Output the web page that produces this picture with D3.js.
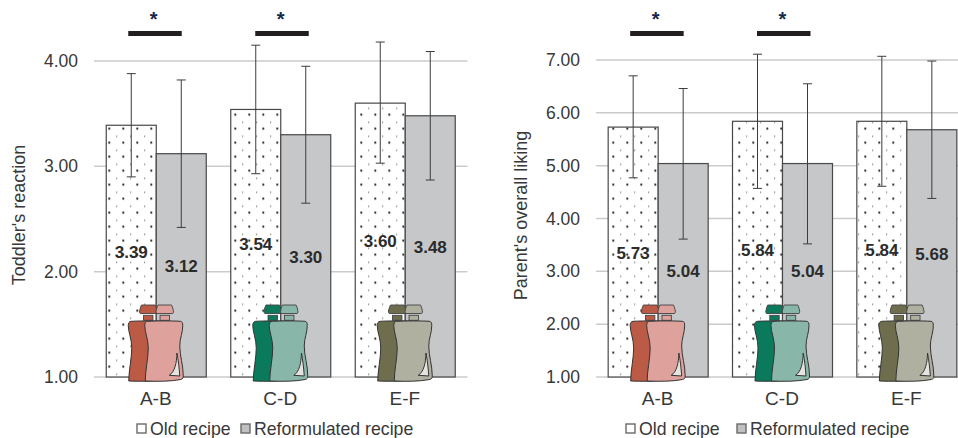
<!DOCTYPE html>
<html lang="en">
<head>
  <meta charset="UTF-8">
  <title>Toddler and parent ratings</title>
  <style>
    html, body { margin: 0; padding: 0; background: #fff; overflow: hidden; }
    text { font-family: "Liberation Sans", Arial, sans-serif; fill: #383838; }
  </style>
</head>
<body>
  <script src="https://d3js.org/d3.v7.min.js"></script>
  <script>
    const categories = ['A-B', 'C-D', 'E-F']
    const recipes = ['Old recipe', 'Reformulated recipe']

    const toddlerOld = [3.39, 3.54, 3.60]
    const toddlerNew = [3.12, 3.30, 3.48]
    const toddlerOldLow = [2.90, 2.93, 3.03]
    const toddlerOldHigh = [3.88, 4.15, 4.18]
    const toddlerNewLow = [2.42, 2.65, 2.87]
    const toddlerNewHigh = [3.82, 3.95, 4.09]
    const toddlerTicks = [1, 2, 3, 4]

    const parentOld = [5.73, 5.84, 5.84]
    const parentNew = [5.04, 5.04, 5.68]
    const parentOldLow = [4.77, 4.57, 4.61]
    const parentOldHigh = [6.70, 7.11, 7.07]
    const parentNewLow = [3.61, 3.52, 4.38]
    const parentNewHigh = [6.46, 6.55, 6.98]
    const parentTicks = [1, 2, 3, 4, 5, 6, 7]

    const significant = ['A-B', 'C-D']

    const oldBottle = ['#bb5a45', '#0b7a5c', '#6e6e4e']
    const newBottle = ['#dfa19c', '#88b7aa', '#b0b0a0']

    const svg = d3.select('body').append('svg')
      .attr('width', 958)
      .attr('height', 438)

    // dotted fill of the old recipe bars
    const pattern = svg.append('defs').append('pattern')
      .attr('id', 'dots')
      .attr('patternUnits', 'userSpaceOnUse')
      .attr('x', 10.1)
      .attr('y', 1.5)
      .attr('width', 14)
      .attr('height', 14)
    pattern.append('rect').attr('width', 14).attr('height', 14).attr('fill', '#fff')
    pattern.append('circle').attr('cx', 1.2).attr('cy', 1.2).attr('r', 1.1).attr('fill', '#222')
    pattern.append('circle').attr('cx', 8.6).attr('cy', 8.8).attr('r', 0.6).attr('fill', '#333')

    const bodyPath = 'M-17,16.3 C-8,15.8 8,15.8 15.5,16.3 C17.5,16.4 18,18 18,20.5 C18,28 15,33 15,41 C15,51 18.5,60 18.5,71 C18.5,73 18,74 16,74.5 C6,76.5 -8,76.5 -19.5,76 C-19.5,66 -16.5,53 -16.5,43 C-16.5,34 -20,27 -20,20.5 C-20,18 -19,16.4 -17,16.3 Z'
    const capPath = 'M-6.8,0 L6.8,0 L8,3 L8.8,7 L8,8.5 L-8,8.5 L-8.8,7 L-8,3 Z'
    const glarePath = 'M12.2,48 C12,58 10,67 4.5,70.3 L15,71 C14.5,63 13.5,55 12.2,48 Z'

    function drawBottle(g, x, top, color, withGlare) {
      const b = g.append('g').attr('transform', `translate(${x},${top})`)
      b.append('rect').attr('x', -4.7).attr('y', 10.3).attr('width', 9.4).attr('height', 5)
        .attr('fill', color).attr('stroke', '#444').attr('stroke-width', 0.9)
      b.append('path').attr('d', capPath)
        .attr('fill', color).attr('stroke', '#444').attr('stroke-width', 0.9)
      b.append('path').attr('d', bodyPath)
        .attr('fill', color).attr('stroke', '#333').attr('stroke-width', 1)
      if (withGlare) {
        b.append('path').attr('d', glarePath)
          .attr('fill', '#e6e4e0').attr('stroke', '#333').attr('stroke-width', 1)
      }
    }

    function drawChart(o) {
      const g = svg.append('g')
      const x = d3.scaleBand().domain(categories).range(o.xRange)
      const y = d3.scaleLinear().domain(o.yDomain).range([377, o.yTop])
      const barW = 50

      g.selectAll('.grid').data(o.ticks).enter().append('line')
        .attr('x1', o.xRange[0])
        .attr('x2', o.xRange[1])
        .attr('y1', d => y(d))
        .attr('y2', d => y(d))
        .attr('stroke', '#cbcbcb')
        .attr('stroke-width', 1.5)

      const yAxis = d3.axisLeft(y).tickValues(o.ticks).tickFormat(d3.format('.2f')).tickSize(0).tickPadding(0)
      const yG = g.append('g').attr('transform', `translate(${o.xRange[0] - 16},0)`).call(yAxis)
      yG.select('.domain').remove()
      yG.selectAll('text').attr('font-size', 17.5).style('font-family', '"Liberation Sans", Arial, sans-serif')

      const xAxis = d3.axisBottom(x).tickSize(0).tickPadding(0)
      const xG = g.append('g').attr('transform', 'translate(-0.5,391.5)').call(xAxis)
      xG.select('.domain').remove()
      xG.selectAll('text').attr('font-size', 19).style('font-family', '"Liberation Sans", Arial, sans-serif')

      g.append('text')
        .attr('transform', `translate(${o.titleX},${o.titleY}) rotate(-90)`)
        .attr('text-anchor', 'middle')
        .attr('font-size', 18)
        .text(o.title)

      const series = [
        { vals: o.oldVals, low: o.oldLow, high: o.oldHigh, fill: 'url(#dots)', off: -barW },
        { vals: o.newVals, low: o.newLow, high: o.newHigh, fill: '#c6c7c9', off: 0 },
      ]
      const center = c => x(c) + x.bandwidth() / 2

      series.forEach(s => {
        g.selectAll('.bar').data(categories).enter().append('rect')
          .attr('x', c => center(c) + s.off)
          .attr('y', (c, i) => y(s.vals[i]))
          .attr('width', barW)
          .attr('height', (c, i) => y(1) - y(s.vals[i]))
          .attr('fill', s.fill)
          .attr('stroke', '#484848')
          .attr('stroke-width', 1.2)
      })

      series.forEach(s => {
        categories.forEach((c, i) => {
          const cx = center(c) + s.off + barW / 2
          const err = g.append('g').attr('stroke', '#3c3c3c').attr('stroke-width', 1)
          err.append('line').attr('x1', cx).attr('x2', cx).attr('y1', y(s.low[i])).attr('y2', y(s.high[i]))
          err.append('line').attr('x1', cx - 4.5).attr('x2', cx + 4.5).attr('y1', y(s.low[i])).attr('y2', y(s.low[i]))
          err.append('line').attr('x1', cx - 4.5).attr('x2', cx + 4.5).attr('y1', y(s.high[i])).attr('y2', y(s.high[i]))

          g.append('text')
            .attr('x', cx)
            .attr('y', (y(s.vals[i]) + y(1)) / 2 + 7)
            .attr('text-anchor', 'middle')
            .attr('font-size', 17)
            .attr('font-weight', 'bold')
            .style('fill', '#2b2b2b')
            .text(s.vals[i].toFixed(2))
        })
      })

      categories.forEach((c, i) => {
        drawBottle(g, center(c) - 8, 305, oldBottle[i], false)
        drawBottle(g, center(c) + 8.5, 305, newBottle[i], true)
      })

      significant.forEach((c, i) => {
        const shift = i * 2.5
        g.append('rect')
          .attr('x', center(c) - 28 + shift)
          .attr('y', 31)
          .attr('width', 53.5)
          .attr('height', 5)
          .attr('fill', '#231f20')
        g.append('text')
          .attr('x', center(c) - 2.5 + shift)
          .attr('y', 26)
          .attr('text-anchor', 'middle')
          .attr('font-size', 20)
          .attr('font-weight', 'bold')
          .style('fill', '#14284b')
          .text('*')
      })

      // legend
      o.legend.forEach((l, i) => {
        g.append('rect')
          .attr('x', l.x)
          .attr('y', 424)
          .attr('width', 9)
          .attr('height', 9)
          .attr('fill', i === 0 ? '#fff' : '#c0c1c3')
          .attr('stroke', '#6a6a6a')
          .attr('stroke-width', 1.4)
        g.append('text')
          .attr('x', l.x + 13)
          .attr('y', 435)
          .attr('font-size', 17.7)
          .text(recipes[i])
      })
    }

    drawChart({
      xRange: [94, 467.5],
      yDomain: [1, 4],
      yTop: 61,
      ticks: toddlerTicks,
      title: "Toddler's reaction",
      titleX: 24.5,
      titleY: 215,
      oldVals: toddlerOld,
      newVals: toddlerNew,
      oldLow: toddlerOldLow,
      oldHigh: toddlerOldHigh,
      newLow: toddlerNewLow,
      newHigh: toddlerNewHigh,
      legend: [{ x: 137 }, { x: 241 }],
    })

    drawChart({
      xRange: [596, 969],
      yDomain: [1, 7],
      yTop: 60,
      ticks: parentTicks,
      title: "Parent's overall liking",
      titleX: 527,
      titleY: 215.5,
      oldVals: parentOld,
      newVals: parentNew,
      oldLow: parentOldLow,
      oldHigh: parentOldHigh,
      newLow: parentNewLow,
      newHigh: parentNewHigh,
      legend: [{ x: 626 }, { x: 737 }],
    })
  </script>
</body>
</html>
